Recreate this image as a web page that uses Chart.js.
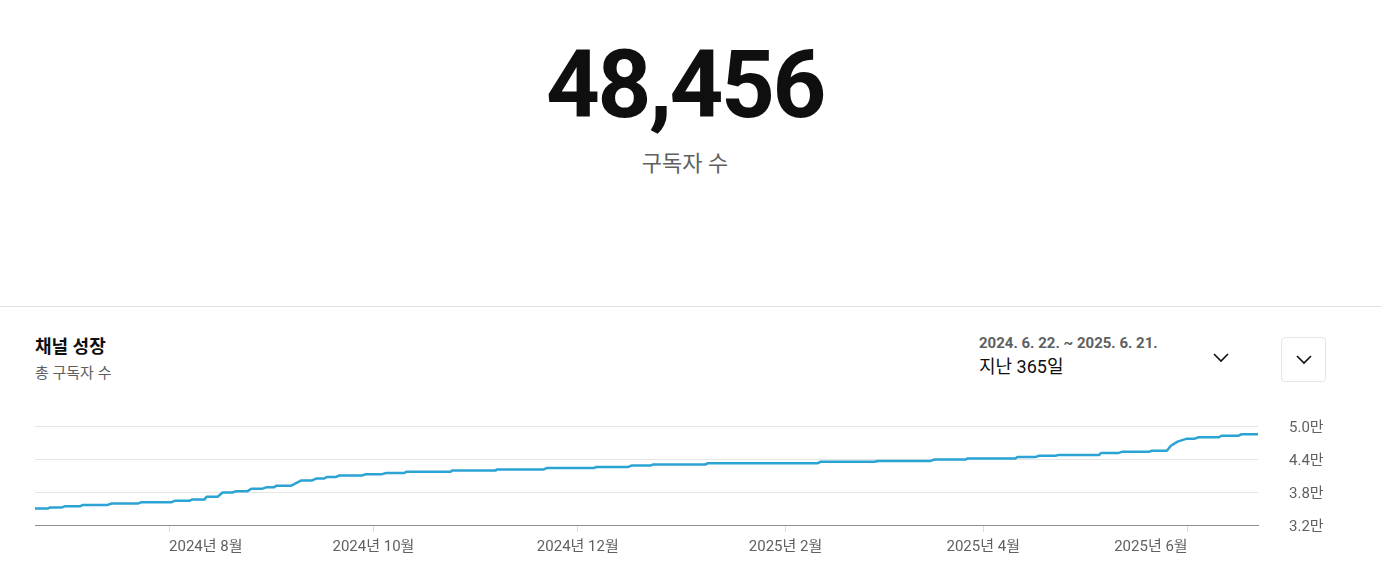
<!DOCTYPE html>
<html lang="ko">
<head>
<meta charset="utf-8">
<script src="https://cdn.jsdelivr.net/npm/chart.js@4/dist/chart.umd.min.js"></script>
<style>
  html, body { margin: 0; padding: 0; background: #fff; }
  body {
    width: 1381px; height: 587px; overflow: hidden; position: relative;
    font-family: Roboto, 'Noto Sans CJK KR', sans-serif; color: #0f0f0f;
  }
  .total {
    position: absolute; left: 0; width: 1370px; top: 38px;
    text-align: center; font-size: 94px; font-weight: 700; line-height: 94px;
    letter-spacing: -2.5px;
  }
  .total-label {
    position: absolute; left: 0; width: 1370px; top: 152px;
    text-align: center; font-size: 22px; line-height: 24px; color: #606060;
  }
  .divider { position: absolute; left: 0; top: 306px; width: 1381px; height: 1px; background: #e0e0e0; }
  .title { position: absolute; left: 35px; top: 335px; font-size: 18px; font-weight: 700; line-height: 24px; }
  .subtitle { position: absolute; left: 35px; top: 364px; font-size: 15px; line-height: 18px; color: #606060; }
  .range { position: absolute; left: 979px; top: 334px; font-size: 15px; font-weight: 700; line-height: 18px; color: #606060; }
  .period { position: absolute; left: 979px; top: 355px; font-size: 18px; line-height: 24px; color: #0f0f0f; }
  .chev { position: absolute; }
  .menu-btn {
    position: absolute; left: 1281px; top: 337px; width: 43px; height: 43px;
    border: 1px solid #e5e5e5; border-radius: 4px; box-sizing: content-box;
  }
  .chart-box { position: absolute; left: 35px; top: 410px; width: 1310px; height: 150px; }
</style>
</head>
<body>
<div class="total">48,456</div>
<div class="total-label">구독자 수</div>
<div class="divider"></div>
<div class="title">채널 성장</div>
<div class="subtitle">총 구독자 수</div>
<div class="range">2024. 6. 22. ~ 2025. 6. 21.</div>
<div class="period">지난 365일</div>
<svg class="chev" style="left:1212px;top:351px" width="18" height="14" viewBox="0 0 18 14">
  <polyline points="2,3 9,10 16,3" fill="none" stroke="#0f0f0f" stroke-width="1.6"/>
</svg>
<div class="menu-btn">
  <svg class="chev" style="left:13px;top:15px" width="18" height="14" viewBox="0 0 18 14">
    <polyline points="2,3 9,10 16,3" fill="none" stroke="#0f0f0f" stroke-width="1.6"/>
  </svg>
</div>
<div class="chart-box"><canvas id="growthChart"></canvas></div>

<script>
const days = [
  0, 3.9, 4.5, 8.0, 8.9, 13.4, 14.3, 21.7, 22.9, 30.7, 31.8, 40.8, 41.7, 46.1,
  47.0, 50.6, 51.2, 54.5, 56.0, 58.9, 60.1, 63.4, 64.6, 67.9, 69.0, 71.4, 72.0, 76.5,
  79.5, 82.7, 83.9, 86.3, 87.2, 89.9, 90.8, 97.6, 98.8, 103.6, 104.8, 110.1,
  111.0, 124.1, 124.4, 137.5, 137.8, 151.8, 152.7, 166.7, 167.6, 177.1, 178.0, 183.6,
  184.5, 200.0, 200.9, 233.6, 234.5, 250.6, 251.5, 267.3, 268.5, 277.7, 278.3, 292.6,
  293.2, 298.5, 299.7, 304.5, 305.7, 317.6, 318.2, 323.5, 324.4, 332.4, 333.3, 337.8,
  339.0, 341.0, 343.8, 346.1, 347.3, 353.3, 354.2, 359.2, 360.1, 365.0
];
const subscribers = [
  35000, 35000, 35200, 35200, 35400, 35400, 35650, 35650, 35900, 35900, 36150, 36150, 36400, 36400,
  36650, 36650, 37150, 37150, 37900, 37900, 38150, 38150, 38600, 38600, 38850, 38850, 39150, 39150,
  40100, 40100, 40450, 40450, 40750, 40750, 41000, 41000, 41250, 41250, 41450, 41450,
  41700, 41700, 41900, 41900, 42100, 42100, 42350, 42350, 42550, 42550, 42800, 42800,
  43000, 43000, 43250, 43250, 43500, 43500, 43650, 43650, 43900, 43900, 44100, 44100,
  44350, 44350, 44600, 44600, 44750, 44750, 45100, 45100, 45300, 45300, 45500, 45500,
  46400, 47150, 47700, 47700, 47950, 47950, 48250, 48250, 48500, 48500
];

// x tick positions (day index of the 1st of each month) and labels
const xTickDays = [40, 101, 162, 224, 283, 344];
const xTickLabels = ['2024년 8월', '2024년 10월', '2024년 12월', '2025년 2월', '2025년 4월', '2025년 6월'];

const yTickValues = [32000, 38000, 44000, 50000];
const yTickLabels = ['3.2만', '3.8만', '4.4만', '5.0만'];

Chart.defaults.font.family = "Roboto, 'Noto Sans CJK KR', sans-serif";
Chart.defaults.font.size = 15;
Chart.defaults.color = '#606060';

new Chart(document.getElementById('growthChart').getContext('2d'), {
    type: 'line',
    data: {
        datasets: [{
            label: '총 구독자 수',
            data: days.map((d, i) => ({ x: d, y: subscribers[i] })),
            borderColor: '#2ba3d4',
            borderWidth: 2.5,
            pointRadius: 0,
            tension: 0,
            borderJoinStyle: 'round',
            borderCapStyle: 'round'
        }]
    },
    options: {
        responsive: true,
        maintainAspectRatio: false,
        animation: false,
        layout: { padding: { left: 0, right: 0, top: 16, bottom: 0 } },
        scales: {
            x: {
                type: 'linear',
                min: 0,
                max: 365,
                afterBuildTicks: (scale) => { scale.ticks = xTickDays.map(v => ({ value: v })); },
                afterFit: (scale) => { scale.height = 35; },
                grid: { drawOnChartArea: false, drawTicks: true, tickLength: 7, color: '#dcdcdc' },
                border: { display: true, color: '#909090', width: 1 },
                ticks: {
                    autoSkip: false,
                    maxRotation: 0,
                    padding: 6,
                    align: 'inner',
                    callback: (value, index) => xTickLabels[index]
                }
            },
            y: {
                position: 'right',
                min: 32000,
                max: 50000,
                afterBuildTicks: (scale) => { scale.ticks = yTickValues.map(v => ({ value: v })); },
                afterFit: (scale) => { scale.width = 87; },
                grid: {
                    // the invisible tick mark pushes the labels away from the plot
                    drawTicks: true,
                    tickLength: 31,
                    tickColor: 'rgba(0,0,0,0)',
                    color: (ctx) => ctx.tick && ctx.tick.value === 32000 ? '#909090' : '#e5e5e5'
                },
                border: { display: false },
                ticks: {
                    padding: 0,
                    labelOffset: 2,
                    callback: (value, index) => yTickLabels[index]
                }
            }
        },
        plugins: { legend: { display: false }, tooltip: { enabled: false } }
    }
});
</script>
</body>
</html>
